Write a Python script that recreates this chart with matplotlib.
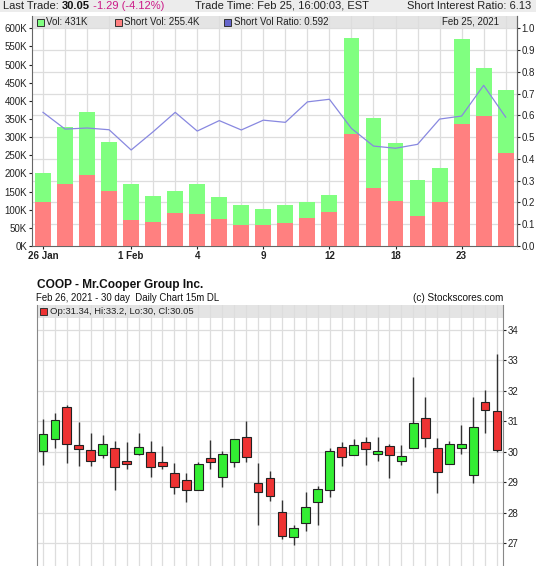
import matplotlib
matplotlib.use("Agg")
import matplotlib.pyplot as plt
from matplotlib.patches import Rectangle
import numpy as np

plt.rcParams['font.family'] = ['Liberation Sans', 'DejaVu Sans']

W, H = 536, 566

# ---- short volume data (K shares) ----
day_labels = ["26 Jan", "", "", "", "1 Feb", "", "", "4", "", "", "9", "", "", "12",
              "", "", "18", "", "", "23", "", ""]
vol = [201, 327, 368, 288, 172, 138, 152, 170, 134, 112, 102,
       112, 122, 140, 573, 352, 285, 181, 214, 570, 491, 431]
short_vol = [122, 172, 197, 152, 73, 67, 90, 88, 75, 58, 58,
             63, 77, 93, 308, 160, 124, 83, 121, 337, 359, 255.4]
short_ratio = [0.614, 0.537, 0.542, 0.534, 0.441, 0.525, 0.614, 0.528, 0.576, 0.533, 0.578,
               0.568, 0.662, 0.674, 0.540, 0.459, 0.449, 0.467, 0.583, 0.597, 0.738, 0.592]

# ---- daily candles ----
opens = [30.03, 30.42, 31.47, 30.21, 30.06, 29.89, 30.14, 29.71, 29.92, 30.00,
         29.66, 29.30, 29.07, 28.74, 29.78, 29.18, 29.66, 30.50, 28.97, 29.15,
         28.03, 27.20, 27.65, 28.36, 28.74, 30.15, 29.89, 30.32, 29.92, 30.20,
         29.70, 30.13, 31.10, 30.13, 29.60, 30.12, 29.24, 31.65, 31.34]
highs = [31.08, 31.26, 31.55, 30.99, 30.62, 30.55, 30.36, 30.32, 30.63, 30.36,
         30.20, 29.63, 29.30, 29.68, 30.39, 30.03, 30.42, 31.02, 29.63, 29.38,
         28.42, 27.60, 28.68, 28.89, 30.12, 30.31, 30.42, 30.48, 30.50, 30.24,
         30.21, 32.46, 31.80, 30.46, 30.34, 30.87, 31.80, 32.02, 33.20]
lows = [29.55, 30.14, 29.62, 29.53, 29.54, 29.80, 28.73, 29.43, 29.90, 29.18,
        29.43, 28.61, 28.35, 28.74, 29.43, 28.85, 29.50, 29.66, 27.59, 28.37,
        27.15, 26.93, 27.41, 27.59, 28.50, 29.52, 29.89, 29.58, 29.71, 29.13,
        29.55, 30.13, 30.17, 28.64, 29.60, 29.94, 28.99, 30.62, 30.00]
closes = [30.58, 31.04, 30.24, 30.09, 29.69, 30.27, 29.50, 29.60, 30.15, 29.50,
          29.53, 28.86, 28.74, 29.60, 29.68, 29.92, 30.42, 29.83, 28.69, 28.56,
          27.24, 27.50, 28.20, 28.79, 30.02, 29.83, 30.22, 30.09, 30.03, 29.89,
          29.86, 30.96, 30.46, 29.32, 30.27, 30.27, 30.83, 31.37, 30.05]


def fx(x):
    return x / W


def fy(y):
    return 1 - y / H


fig = plt.figure(figsize=(W / 100, H / 100), dpi=100)
fig.patch.set_facecolor("white")
fig.patches.append(Rectangle((0, fy(12)), 1, 12 / H, transform=fig.transFigure,
                             facecolor="#ececec", edgecolor="none", zorder=0))

# header line
hs = 8.0
hy = fy(6)
t = fig.text(fx(3), hy, "Last Trade: ", fontsize=hs, va="center", color="#222222")
fig.canvas.draw()
r = fig.canvas.get_renderer()
bb = t.get_window_extent(r)
t2 = fig.text(bb.x1 / W, hy, "30.05", fontsize=hs, va="center", weight="bold", color="#111111")
bb2 = t2.get_window_extent(r)
fig.text(bb2.x1 / W, hy, " -1.29 (-4.12%)", fontsize=hs, va="center", color="#cc1a88")
fig.text(fx(195), hy, "Trade Time: Feb 25, 16:00:03, EST", fontsize=hs, va="center", color="#222222")
fig.text(fx(531), hy, "Short Interest Ratio: 6.13", fontsize=hs, va="center", ha="right", color="#222222")

fs = 7.0

# ---------------- volume chart ----------------
ax = fig.add_axes([fx(32), fy(246), fx(516.7 - 32), (246 - 16) / H])
x = np.arange(len(vol))
ax.bar(x, vol, width=0.72, color="#80ff80", zorder=2)
ax.bar(x, short_vol, width=0.72, color="#ff8080", zorder=3)
ax.set_xlim(-0.5, len(vol) - 0.5)
ax.set_ylim(0, 634)
ax.set_yticks(np.arange(0, 601, 50))
ax.set_yticklabels([f"{v}K" for v in range(0, 601, 50)], fontsize=fs)
lab_pos = [i for i, s in enumerate(day_labels) if s]
ax.set_xticks(lab_pos)
ax.set_xticklabels([day_labels[i] for i in lab_pos], fontsize=7.0, weight="bold")
ax.tick_params(axis="both", length=2.5, width=0.8, pad=1, colors="#222222")
ax.set_axisbelow(True)
for s in ["left", "bottom", "right"]:
    ax.spines[s].set_color("#666666")
ax.spines["top"].set_visible(False)
for xi in x:
    ax.axvline(xi, color="#dddddd", lw=0.9, zorder=0.5)
ax.add_patch(Rectangle((0, 1 - 12 / 230), 1, 12 / 230, transform=ax.transAxes,
                       facecolor="#e4e4e4", edgecolor="none", zorder=0.2))

ax2 = ax.twinx()
ax2.plot(x, short_ratio, color="#8888e0", lw=0.9, zorder=4)
ax2.set_ylim(0, 1.0565)
ax2.set_yticks(np.arange(0, 1.01, 0.1))
ax2.set_yticklabels([f"{v:.1f}" for v in np.arange(0, 1.01, 0.1)], fontsize=fs)
ax2.tick_params(axis="y", length=2.5, width=0.8, pad=1, colors="#222222")
ax2.spines["right"].set_color("#666666")
ax2.spines["top"].set_visible(False)
ax2.spines["left"].set_visible(False)
ax2.spines["bottom"].set_visible(False)
ax.set_zorder(ax2.get_zorder() - 1)
ax2.patch.set_visible(False)
for yv in np.arange(0.1, 1.01, 0.1):
    ax.axhline(yv * 634 / 1.0565, color="#dddddd", lw=0.9, zorder=0.5)

# legend row
leg_y = fy(22)
items = [(37, "#80ff80", "Vol: 431K"), (115, "#ff8080", "Short Vol: 255.4K"),
         (224, "#6666cc", "Short Vol Ratio: 0.592")]
for lx, c, txt in items:
    fig.patches.append(Rectangle((fx(lx), fy(25.5)), 7 / W, 7 / H, transform=fig.transFigure,
                                 facecolor=c, edgecolor="#333333", lw=0.7, zorder=5))
    fig.text(fx(lx + 9.5), leg_y, txt, fontsize=fs, va="center", color="#222222")
fig.text(fx(499), leg_y, "Feb 25, 2021", fontsize=fs, va="center", ha="right", color="#222222")

# ---------------- candle chart ----------------
fig.text(fx(37), fy(285), "COOP - Mr.Cooper Group Inc.", fontsize=8.6, weight="bold",
         va="center", color="#111111")
fig.text(fx(36), fy(298), "Feb 26, 2021 - 30 day  Daily Chart 15m DL", fontsize=6.9,
         va="center", color="#111111")
fig.text(fx(503), fy(298), "(c) Stockscores.com", fontsize=7.2, va="center", ha="right",
         color="#111111")

bottom_px = 600
cx = fig.add_axes([fx(37), fy(bottom_px), fx(503 - 37), (bottom_px - 305) / H])
n = len(opens)
cx.set_xlim(-0.5, n - 0.5)
top_price = 34 + 25 / 30.4
bot_price = 30 - (bottom_px - 452) / 30.4
cx.set_ylim(bot_price, top_price)
cx.set_axisbelow(True)
for i in range(n):
    cx.axvline(i, color="#dddddd", lw=0.9, zorder=0.5)
for p in range(26, 35):
    cx.axhline(p, color="#dddddd", lw=0.9, zorder=0.5)
band_h = 13 / (bottom_px - 305)
cx.add_patch(Rectangle((0, 1 - band_h), 1, band_h, transform=cx.transAxes,
                       facecolor="#e4e4e4", edgecolor="none", zorder=0.2))
for i in range(n):
    o, h, l, c = opens[i], highs[i], lows[i], closes[i]
    col = "#33ee33" if c >= o else "#ee3333"
    cx.vlines(i, l, h, color="#333333", lw=1.0, zorder=2)
    lo_b = min(o, c)
    cx.add_patch(Rectangle((i - 0.37, lo_b), 0.74, max(abs(c - o), 0.03),
                           facecolor=col, edgecolor="#222222", lw=0.8, zorder=3))
cx.yaxis.tick_right()
cx.set_yticks(range(27, 35))
cx.set_yticklabels([str(v) for v in range(27, 35)], fontsize=fs)
cx.tick_params(axis="y", length=2.5, width=0.8, pad=1, colors="#222222")
cx.set_xticks([])
for s in ["left", "right"]:
    cx.spines[s].set_color("#888888")
cx.spines["top"].set_visible(False)
cx.spines["bottom"].set_visible(False)

fig.patches.append(Rectangle((fx(40), fy(314.5)), 7 / W, 7 / H, transform=fig.transFigure,
                             facecolor="#ee3333", edgecolor="#333333", lw=0.7, zorder=5))
fig.text(fx(50.5), fy(311), "Op:31.34, Hi:33.2, Lo:30, Cl:30.05", fontsize=6.8,
         va="center", color="#222222")

fig.savefig("out.png", dpi=100)
